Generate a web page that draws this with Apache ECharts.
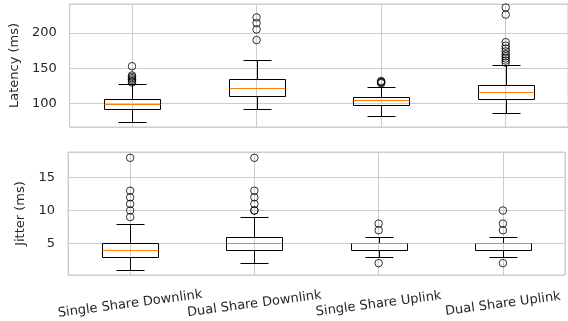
<!DOCTYPE html>
<html><head><meta charset="utf-8">
<script src="https://cdn.jsdelivr.net/npm/echarts@6/dist/echarts.min.js"></script>
<style>html,body{margin:0;padding:0;background:#fff;overflow:hidden}#c{width:568px;height:321px}</style>
</head><body><div id="c"></div>
<script>
// ---- data ----
const categories = ['Single Share Downlink', 'Dual Share Downlink', 'Single Share Uplink', 'Dual Share Uplink'];
const positions = [1, 2, 3, 4];
// [lower whisker, Q1, median, Q3, upper whisker]
const latencyStats = [
  [74.5, 92.5, 99, 107, 127.5],
  [92, 111, 122.7, 134.5, 161.5],
  [82.6, 98.6, 105.2, 110, 124],
  [87.3, 106.7, 116.6, 127, 154.4]
];
const jitterStats = [
  [1, 3, 4, 5, 8],
  [2, 4, 5, 6, 9],
  [3, 4, 5, 5, 6],
  [3, 4, 5, 5, 6]
];
const latencyOutliers = [
  [130, 132, 134, 136, 138, 140, 153],
  [190, 205, 214, 222],
  [129, 130, 131, 132],
  [158, 161, 164, 167, 170, 174, 178, 182, 187, 226, 236]
];
const jitterOutliers = [
  [9, 10, 11, 12, 13, 18],
  [10, 10, 11, 12, 13, 18],
  [2, 7, 8],
  [2, 7, 8, 10]
];
const latencyTicks = [100, 150, 200];
const jitterTicks = [5, 10, 15];
const latencyRange = [67, 241];
const jitterRange = [0.2, 18.88];
const yNames = ['Latency (ms)', 'Jitter (ms)'];

// ---- helpers ----
function boxData(stats) { return stats.map((s, i) => [positions[i]].concat(s)); }
function outlierData(out) {
  const r = [];
  out.forEach((arr, i) => arr.forEach(v => r.push([positions[i], v])));
  return r;
}
const BOX_W = 0.45;
const crisp = v => Math.round(v) + 0.5;
function renderBox(params, api) {
  const x = api.value(0);
  const lo = api.value(1), q1 = api.value(2), med = api.value(3), q3 = api.value(4), hi = api.value(5);
  const half = BOX_W / 2, capHalf = BOX_W / 4;
  const c = (xx, yy) => api.coord([xx, yy]);
  const xl = crisp(c(x - half, 0)[0]), xr = crisp(c(x + half, 0)[0]);
  const xc = crisp(c(x, 0)[0]);
  const cl = crisp(c(x - capHalf, 0)[0]), cr = crisp(c(x + capHalf, 0)[0]);
  const yq1 = crisp(c(x, q1)[1]), yq3 = crisp(c(x, q3)[1]);
  const ylo = crisp(c(x, lo)[1]), yhi = crisp(c(x, hi)[1]);
  const ymed = crisp(c(x, med)[1]);
  const ls = { stroke: '#000', lineWidth: 1, fill: null };
  const line = (x1, y1, x2, y2, st) => ({ type: 'line', shape: { x1, y1, x2, y2 }, style: st || ls });
  return {
    type: 'group',
    children: [
      line(xc, yq3, xc, yhi),
      line(xc, yq1, xc, ylo),
      line(cl, yhi, cr, yhi),
      line(cl, ylo, cr, ylo),
      { type: 'rect', shape: { x: xl, y: yq3, width: xr - xl, height: yq1 - yq3 }, style: { stroke: '#000', lineWidth: 1, fill: 'rgba(0,0,0,0)' } },
      line(xl, ymed, xr, ymed, { stroke: '#ff7f0e', lineWidth: 1.2 })
    ]
  };
}

const textColor = '#262626';
const gridColor = '#cccccc';
const font = 'DejaVu Sans';

function yAxis(idx, range, ticks, name, gap) {
  return {
    type: 'value', gridIndex: idx, min: range[0], max: range[1], splitNumber: 4,
    name: name, nameLocation: 'middle', nameRotate: 90, nameGap: gap,
    nameTextStyle: { color: textColor, fontSize: 13, fontFamily: font },
    axisLine: { show: false }, axisTick: { show: false },
    axisLabel: {
      color: textColor, fontSize: 13, fontFamily: font, margin: 13,
      formatter: v => ticks.some(t => Math.abs(t - v) < 1e-6) ? String(Math.round(v)) : ''
    },
    splitLine: { show: true, lineStyle: { color: gridColor, width: 1 } }
  };
}
function xAxis(idx, showLabels) {
  return {
    type: 'value', gridIndex: idx, min: 0.5, max: 4.5, splitNumber: 4,
    axisLine: { show: false }, axisTick: { show: false },
    axisLabel: {
      show: showLabels, color: textColor, fontSize: 13, fontFamily: font,
      rotate: 7.5, align: 'center', verticalAlign: 'middle', margin: 29, hideOverlap: false,
      formatter: v => {
        const r = Math.round(v);
        return Math.abs(v - r) < 1e-6 && r >= 1 && r <= categories.length ? categories[r - 1] : '';
      }
    },
    splitLine: { show: true, lineStyle: { color: gridColor, width: 1 } }
  };
}
function outlierSeries(idx, data) {
  return {
    type: 'scatter', xAxisIndex: idx, yAxisIndex: idx, data: data,
    symbol: 'circle', symbolSize: 7.5, silent: true,
    itemStyle: { color: 'rgba(0,0,0,0)', borderColor: '#000', borderWidth: 1 }
  };
}

const chart = echarts.init(document.getElementById('c'), null, { renderer: 'canvas' });
chart.setOption({
  animation: false,
  backgroundColor: '#fff',
  grid: [
    { left: 68, right: -2, top: 4, height: 123, show: true, borderColor: gridColor, borderWidth: 1, containLabel: false },
    { left: 68, right: -2, top: 152, height: 123, show: true, borderColor: gridColor, borderWidth: 1, containLabel: false }
  ],
  xAxis: [xAxis(0, false), xAxis(1, true)],
  yAxis: [
    yAxis(0, latencyRange, latencyTicks, yNames[0], 37),
    yAxis(1, jitterRange, jitterTicks, yNames[1], 28)
  ],
  series: [
    { type: 'custom', xAxisIndex: 0, yAxisIndex: 0, data: boxData(latencyStats), renderItem: renderBox, silent: true },
    outlierSeries(0, outlierData(latencyOutliers)),
    { type: 'custom', xAxisIndex: 1, yAxisIndex: 1, data: boxData(jitterStats), renderItem: renderBox, silent: true },
    outlierSeries(1, outlierData(jitterOutliers))
  ]
});
</script>
</body></html>
